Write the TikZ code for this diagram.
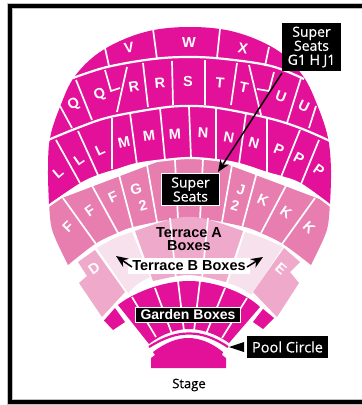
\documentclass[tikz,border=0pt]{standalone}
\usepackage{fontspec}
\setmainfont{Liberation Sans}
\newfontfamily\opn[FakeBold=0.4]{Open Sans}
\usetikzlibrary{arrows.meta}
\definecolor{darkp}{HTML}{E3109A}
\definecolor{midp}{HTML}{E87DB0}
\definecolor{lightp}{HTML}{EFA9CB}
\definecolor{paleP}{HTML}{F7E1EC}
\tikzset{
 sepline/.style={white,line width=1.7pt},
 seat/.style={white,font=\bfseries\fontsize{14.5}{15}\selectfont,inner sep=0pt},
 blackbox/.style={fill=black,text=white,align=center,inner sep=0pt,font=\opn\fontsize{14}{14}\selectfont},
 darktext/.style={black,align=center,inner sep=0pt,font=\bfseries\fontsize{14.5}{13}\selectfont},
 pointer/.style={black,line width=1.5pt,-{Stealth[length=12pt,width=10pt]}},
}
\begin{document}
\begin{tikzpicture}[x=1pt,y=-1pt]
\useasboundingbox (0,0) rectangle (362,405);
\fill[white] (0,0) rectangle (362,405);
% frame
\draw[black!25,line width=5.5pt] (362,6.2)--(10,6.2)--(10,402)--(362,402);
\draw[black,line width=4pt] (362,6.2)--(10,6.2)--(10,402)--(362,402);
% F-K ring
\fill[midp,smooth,tension=0.6] plot coordinates {(49,203)(51,225)(56,240)(68,265)}
 -- plot coordinates {(68,265)(95,244)(117,233)(133,227)(167,220)(189,218)(211,220)(245,227)(261,233)(283,244)(311,265)}
 -- plot coordinates {(311,265)(323,240)(328,225)(330,203)} -- (189,150) -- cycle;
% upper dark area
\fill[darkp,smooth,tension=0.6] plot coordinates {(49,204)(48,170)(50,138)(60,107)(75,76)(103,50)(145,32)(190,27)(235,32)(277,50)(303,76)(318,107)(328,138)(331,170)(330,204)}
 -- plot coordinates {(330,204)(301,184)(281,177)(267,173)(239,164)(216,160)(190,158)(165,160)(137,164)(117,170)(98,176)(80,184)(49,204)} -- cycle;
% rings
\draw[sepline,line width=2.2pt,smooth,tension=0.6] plot coordinates {(47,207)(80,184.5)(98,176)(117,170)(137,164)(165,160)(190,158)(216,160)(239,164)(267,173)(281,177)(301,184.5)(332,207)};
\draw[sepline,line width=2.2pt,smooth,tension=0.6] plot coordinates {(48,140)(80,127)(110,117)(160,108)(188,106)(218,108)(268,118)(300,128)(330,141)};
\draw[sepline,line width=2.2pt,smooth,tension=0.6] plot coordinates {(73,78)(107,67)(153,59)(190,57)(225,59)(271,66)(304,79)};
% separators, dark
\draw[sepline] (105,48)--(109,66) (153,29)--(157,59) (220,29)--(217,58) (269,47)--(265,66)
 (60,106)--(72,128) (76,80)--(92,120) (105,70)--(111,91)--(120,88) (127,67)--(117,112)
 (143,63)--(148,107) (172,61)--(173,105) (205,60)--(205,105) (237,63)--(231,105)
 (249,65)--(261,115) (274,72)--(269,91)--(257,89) (301,78)--(287,123) (316,106)--(309,128)
 (56,140)--(80,183) (78,131)--(98,175) (112,118)--(112,169) (130,113)--(137,165) (160,108)--(165,160)
 (189,107)--(191,158) (216,108)--(216,160) (246,113)--(239,164) (267,118)--(267,175) (300,130)--(281,177) (319,140)--(301,184);
% separators, F ring
\draw[sepline] (63,198)--(96,244) (90,182)--(118,233) (118,171)--(133,228) (147,165)--(157,222)
 (175,160)--(178,219) (203,159)--(200,219) (232,165)--(222,222) (257,172)--(242,228) (288,182)--(261,233) (315,198)--(282,244);
% terrace ring
\fill[lightp] (78,262)--(95,250)--(125,292)--(102,317)--(79,283)--(87,276)--cycle;
\fill[lightp] (284,248)--(300,262)--(290,272)--(299,283)--(277,317)--(253,292)--cycle;
\fill[paleP] (97,248) .. controls (114,238) .. (132,232) -- (150,277) .. controls (138,283) .. (128,293) -- cycle;
\fill[paleP] (283,247) .. controls (264,238) .. (245,232) -- (228,283) .. controls (240,287) .. (251,295) -- cycle;
\fill[lightp] (135,231) .. controls (189,212) .. (243,231) -- (226,282) .. controls (189,273) .. (153,281) -- cycle;
\draw[sepline] (170,218)--(176,279) (208,218)--(202,279);
% white band + labels in terrace
\fill[white] (128,258) rectangle (250,274);
% garden
\fill[darkp] (104,320.5)--(115,308)--(125,322)--(113,330)--cycle;
\fill[darkp] (253,322)--(263,309)--(274,318)--(263,329)--cycle;
\fill[darkp] (118,305) .. controls (130,295) and (160,281) .. (189,281) .. controls (218,281) and (248,295) .. (260,307)
 -- (229,343) .. controls (215,333) and (200,329) .. (189,329) .. controls (178,329) and (163,333) .. (149,344) -- cycle;
\draw[sepline] (132,297)--(156,337) (155,288)--(172,334) (178,281)--(184,331) (200,281)--(194,331) (225,288)--(206,334) (247,298)--(222,338);
% pool circle band and stage
\draw[darkp,line width=2.2pt] (149,347) .. controls (165,337) and (177,333.5) .. (189,333.5) .. controls (201,333.5) and (213,337) .. (228,347);
\fill[darkp] (151,368)--(151,358)--(155,355)--(153,352) .. controls (165,343) and (177,338) .. (188,338) .. controls (200,338) and (212,343) .. (223,352) -- (222,355)--(226,358)--(226,368)--cycle;
% seat letters
\foreach \n/\t/\x/\y/\r in {
 v/V/129/48/10, w/W/189/43/0, x/X/243/48/-10,
 qa/Q/74/105/30, qb/Q/100/95/25, ra/R/134/87/10, rb/R/160/83/5, s/S/188/82/0, ta/T/220/83/-5, tb/T/244/88/-12, ua/U/281/97/-20, ub/U/304/106/-25,
 la/L/58/173/40, lb/L/79/160/35, lc/L/100/150/25, ma/M/124/142/12, mb/M/149/136/7, mc/M/175/134/3,
 na/N/203/133/-3, nb/N/229/137/-10, nc/N/254/143/-15, pa/P/279/150/-22, pb/P/299/158/-28, pc/P/319/170/-35,
 fa/F/68/227/45, fb/F/90/211/35, fc/F/113/197/25, g/G/136/189/15, gt/2/143/206/15, j/J/241/190/-15, jt/2/235/206/-15,
 ka/K/263/200/-25, kb/K/286/212/-35, kc/K/309/228/-45, d/D/94/268/35, e/E/281/269/-40}
 {\node[seat,rotate=\r] (\n) at (\x,\y) {\t};}
% boxes
\node[blackbox,minimum width=59pt,minimum height=48pt] (supertop) at (311.5,47) {Super\\Seats\\G1 H J1};
\node[blackbox,draw=white,line width=0.5pt,minimum width=58pt,minimum height=32pt] (supermid) at (190.5,189.5) {Super\\Seats};
\node[darktext] (terA) at (189,239.5) {Terrace A\\Boxes};
\node[darktext] (terB) at (189,265.5) {Terrace B Boxes};
\coordinate (terBl) at (116,256);
\coordinate (terBr) at (263,257);
\coordinate (terBls) at (132,267);
\coordinate (terBrs) at (247,267);
\draw[pointer] (terBls)--(terBl);
\draw[pointer] (terBrs)--(terBr);
\node[fill=black,draw=white,line width=1pt,text=white,inner sep=0pt,minimum width=105pt,minimum height=15pt,font=\bfseries\fontsize{14}{14}\selectfont] (garden) at (188,314.5) {Garden Boxes};
\node[blackbox,minimum width=81pt,minimum height=22pt,font=\opn\fontsize{14.5}{14}\selectfont] (pool) at (287.5,347) {Pool Circle};
\coordinate (pooltip) at (229,347);
\fill[black] (pooltip)--(244,342)--(244,352)--cycle;
\node[black,inner sep=0pt,font=\opn\fontsize{13}{13}\selectfont] (stage) at (189,385) {Stage};
\coordinate (arrowfrom) at (282,73);
\coordinate (arrowto) at (218,172);
\draw[pointer] (arrowfrom)--(arrowto);
\end{tikzpicture}
\end{document}
